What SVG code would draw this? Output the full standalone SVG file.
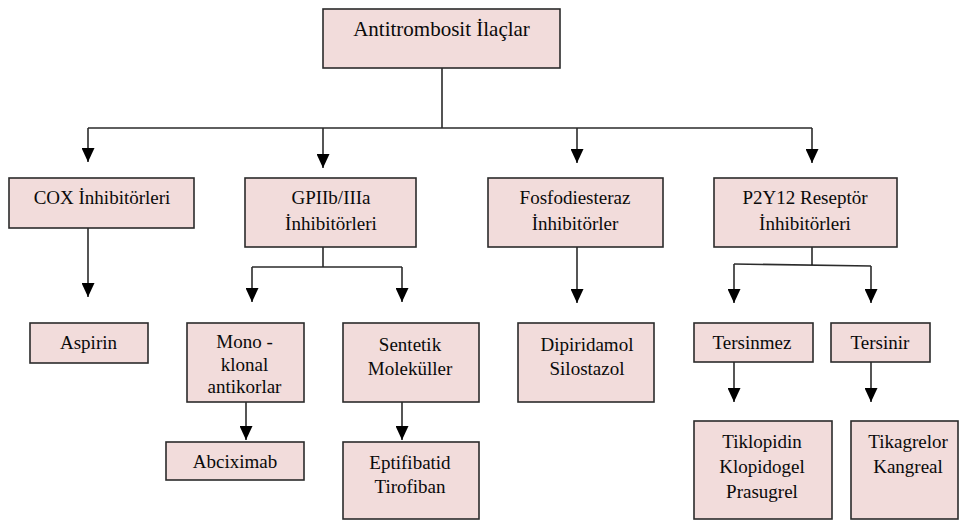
<svg xmlns="http://www.w3.org/2000/svg" width="959" height="523" viewBox="0 0 959 523">
<style>
.box{fill:#f2dcdb;stroke:#2b2b2b;stroke-width:1.6}
text{font-family:'Liberation Serif','Times New Roman','DejaVu Serif',serif;font-size:19px;fill:#0a0a0a;text-anchor:middle}
.title{font-size:21px}
.c{fill:none;stroke:#2b2b2b;stroke-width:1.6}
.a{marker-end:url(#arr)}
</style>
<defs>
<marker id="arr" viewBox="0 0 14 13" refX="14" refY="6.5" markerWidth="14" markerHeight="13" markerUnits="userSpaceOnUse" orient="auto">
<path d="M0,0 L14,6.5 L0,13 z" fill="#000"/>
</marker>
</defs>
<rect width="959" height="523" fill="#fff"/>
<g id="connectors">
<path class="c" d="M442,68 V128 M88,128 H812"/>
<path class="c a" d="M88,128 V162"/>
<path class="c a" d="M323,128 V168"/>
<path class="c a" d="M577,128 V163"/>
<path class="c a" d="M812,128 V163"/>
<path class="c a" d="M88,228 V297"/>
<path class="c" d="M323,247 V267 M252,267 H402"/>
<path class="c a" d="M252,267 V302"/>
<path class="c a" d="M402,267 V302"/>
<path class="c a" d="M246,402 V440"/>
<path class="c a" d="M402,402 V440"/>
<path class="c a" d="M577,247 V303"/>
<path class="c" d="M812,247 V265 M734,264 L871,266"/>
<path class="c a" d="M734,264 V303"/>
<path class="c a" d="M871,266 V303"/>
<path class="c a" d="M734,362 V402"/>
<path class="c a" d="M871,362 V402"/>
</g>
<g id="root"><rect class="box" x="323" y="9" width="237" height="59"/><text class="title" x="441.5" y="36">Antitrombosit İlaçlar</text></g>
<g id="cox"><rect class="box" x="9" y="178" width="185" height="50"/><text x="102" y="204">COX İnhibitörleri</text></g>
<g id="gpiib"><rect class="box" x="245" y="178" width="171" height="69"/><text x="331" y="204">GPIIb/IIIa</text><text x="331" y="230">İnhibitörleri</text></g>
<g id="fosfo"><rect class="box" x="488" y="178" width="175" height="69"/><text x="575" y="204">Fosfodiesteraz</text><text x="575" y="230">İnhibitörler</text></g>
<g id="p2y12"><rect class="box" x="714" y="178" width="183" height="69"/><text x="805" y="204">P2Y12 Reseptör</text><text x="805" y="230">İnhibitörleri</text></g>
<g id="aspirin"><rect class="box" x="30" y="323" width="118" height="40"/><text x="88.5" y="349">Aspirin</text></g>
<g id="mono"><rect class="box" x="187" y="323" width="117" height="79"/><text x="244.5" y="348">Mono -</text><text x="244.5" y="371">klonal</text><text x="244.5" y="393">antikorlar</text></g>
<g id="sentetik"><rect class="box" x="343" y="323" width="136" height="79"/><text x="410" y="351">Sentetik</text><text x="410" y="375">Moleküller</text></g>
<g id="abciximab"><rect class="box" x="166" y="442" width="138" height="38"/><text x="235" y="468">Abciximab</text></g>
<g id="eptifibatid"><rect class="box" x="343" y="442" width="136" height="77"/><text x="410" y="469">Eptifibatid</text><text x="410" y="493">Tirofiban</text></g>
<g id="dipiridamol"><rect class="box" x="518" y="323" width="136" height="79"/><text x="587" y="351">Dipiridamol</text><text x="587" y="375">Silostazol</text></g>
<g id="tersinmez"><rect class="box" x="694" y="323" width="119" height="39"/><text x="752" y="349">Tersinmez</text></g>
<g id="tersinir"><rect class="box" x="831" y="323" width="99" height="39"/><text x="880" y="349">Tersinir</text></g>
<g id="tiklopidin"><rect class="box" x="694" y="421" width="138" height="98"/><text x="762" y="448">Tiklopidin</text><text x="762" y="473">Klopidogel</text><text x="762" y="498">Prasugrel</text></g>
<g id="tikagrelor"><rect class="box" x="851" y="421" width="107" height="98"/><text x="908" y="448">Tikagrelor</text><text x="908" y="473">Kangreal</text></g>
</svg>
